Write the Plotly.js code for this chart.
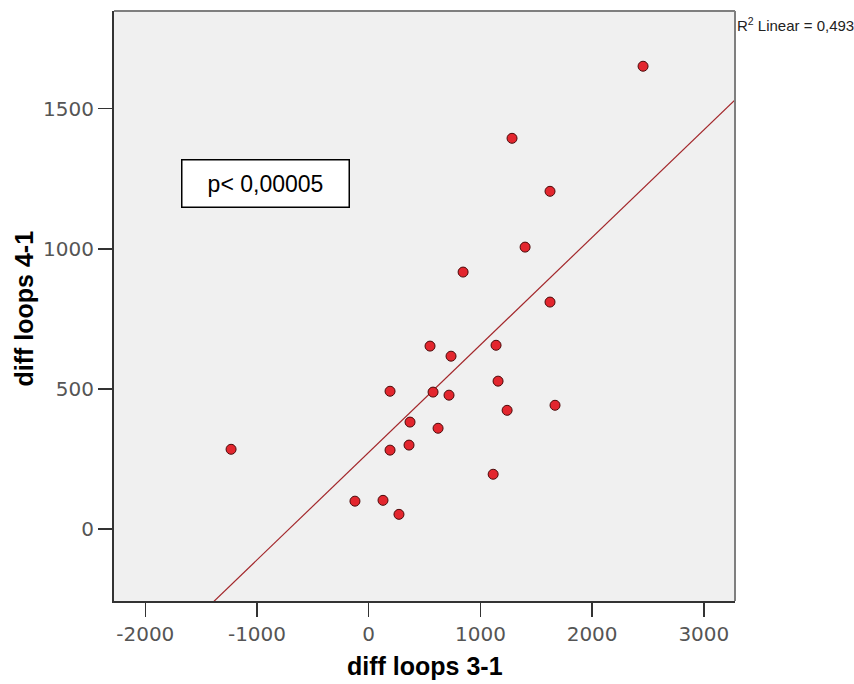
<!DOCTYPE html>
<html>
<head>
<meta charset="utf-8">
<script src="https://cdn.plot.ly/plotly-3.0.1.min.js"></script>
<style>html,body{margin:0;padding:0;background:#fff;}#chart{width:854px;height:684px;}</style>
</head>
<body>
<div id="chart"></div>
<script>
// diff loops 3-1 (x) and diff loops 4-1 (y)
const diffLoops31 = [2456, 1283, 1623, 1400, 845, 1623, 549, 737, 1140, 1158, 191, 576, 719, 370, 1239, 1668, 621, 361, 191, -1232, 1114, -123, 128, 271];
const diffLoops41 = [1651, 1394, 1205, 1006, 917, 810, 653, 617, 656, 528, 492, 489, 478, 382, 424, 442, 360, 300, 282, 285, 196, 100, 103, 53];
const xTickVals = [-2000, -1000, 0, 1000, 2000, 3000];
const yTickVals = [0, 500, 1000, 1500];
const xTitle = 'diff loops 3-1';
const yTitle = 'diff loops 4-1';
const pText = 'p< 0,00005';
const r2Text = 'R<sup>2</sup> Linear = 0,493';

const xRange = [-2280, 3279];
const yRange = [-256, 1848];

// least-squares fit computed from the data
const n = diffLoops31.length;
const mx = diffLoops31.reduce((a, b) => a + b, 0) / n;
const my = diffLoops41.reduce((a, b) => a + b, 0) / n;
let sxy = 0, sxx = 0;
for (let i = 0; i < n; i++) {
  sxy += (diffLoops31[i] - mx) * (diffLoops41[i] - my);
  sxx += (diffLoops31[i] - mx) ** 2;
}
const slope = sxy / sxx;
const intercept = my - slope * mx;
const fitX = [xRange[0], xRange[1]];
const fitY = fitX.map(v => intercept + slope * v);

const traces = [
  {
    x: fitX, y: fitY, type: 'scatter', mode: 'lines',
    line: {color: '#a3272b', width: 1.2},
    hoverinfo: 'skip', showlegend: false
  },
  {
    x: diffLoops31, y: diffLoops41, type: 'scatter', mode: 'markers',
    marker: {size: 10, color: '#e3262e', line: {color: '#4a0a0a', width: 1}},
    showlegend: false
  }
];

const tickFont = {family: 'DejaVu Sans, sans-serif', size: 20, color: '#555555'};
const titleFont = {family: 'Liberation Sans, Arial, sans-serif', size: 25, color: '#000', weight: 'bold'};
const layout = {
  width: 854, height: 684,
  margin: {l: 114, r: 119, t: 11, b: 83},
  paper_bgcolor: '#ffffff',
  plot_bgcolor: '#f0f0f0',
  showlegend: false,
  xaxis: {
    range: xRange, tickvals: xTickVals, ticktext: xTickVals.map(v => v < 0 ? '-' + Math.abs(v) : String(v)),
    showgrid: false, zeroline: false,
    showline: true, linecolor: '#333333', linewidth: 2,
    ticks: 'outside', ticklen: 14, tickwidth: 1.5, tickcolor: '#333333',
    tickfont: tickFont
  },
  yaxis: {
    range: yRange, tickvals: yTickVals, ticktext: yTickVals.map(String),
    showgrid: false, zeroline: false,
    showline: true, linecolor: '#333333', linewidth: 2,
    ticks: 'outside', ticklen: 14, tickwidth: 1.5, tickcolor: '#333333',
    tickfont: tickFont
  },
  shapes: [
    {type: 'line', xref: 'paper', yref: 'paper', x0: 0, x1: 1, y0: 1, y1: 1, line: {color: '#7f7f7f', width: 2}},
    {type: 'line', xref: 'paper', yref: 'paper', x0: 1, x1: 1, y0: 0, y1: 1, line: {color: '#7f7f7f', width: 2}}
  ],
  annotations: [
    {
      text: xTitle, xref: 'paper', yref: 'paper',
      x: 0.5, y: (601 - 666) / 590, xanchor: 'center', yanchor: 'middle',
      showarrow: false, font: titleFont
    },
    {
      text: yTitle, xref: 'paper', yref: 'paper', textangle: -90,
      x: (23.5 - 114) / 621, y: (601 - 309) / 590, xanchor: 'center', yanchor: 'middle',
      showarrow: false, font: titleFont
    },
    {
      text: pText, xref: 'paper', yref: 'paper',
      x: (181 - 114) / 621, y: (601 - 159) / 590, xanchor: 'left', yanchor: 'top',
      showarrow: false, width: 164, height: 44, align: 'center', valign: 'middle',
      bgcolor: '#ffffff', bordercolor: '#000000', borderwidth: 1.5, borderpad: 1,
      font: {family: 'Liberation Sans, Arial, sans-serif', size: 23, color: '#000'}
    },
    {
      text: r2Text, xref: 'paper', yref: 'paper',
      x: 1, y: (601 - 25) / 590, xanchor: 'left', yanchor: 'middle',
      showarrow: false,
      font: {family: 'Liberation Sans, Arial, sans-serif', size: 15, color: '#222'}
    }
  ]
};

Plotly.newPlot('chart', traces, layout, {displayModeBar: false, staticPlot: true});
</script>
</body>
</html>
